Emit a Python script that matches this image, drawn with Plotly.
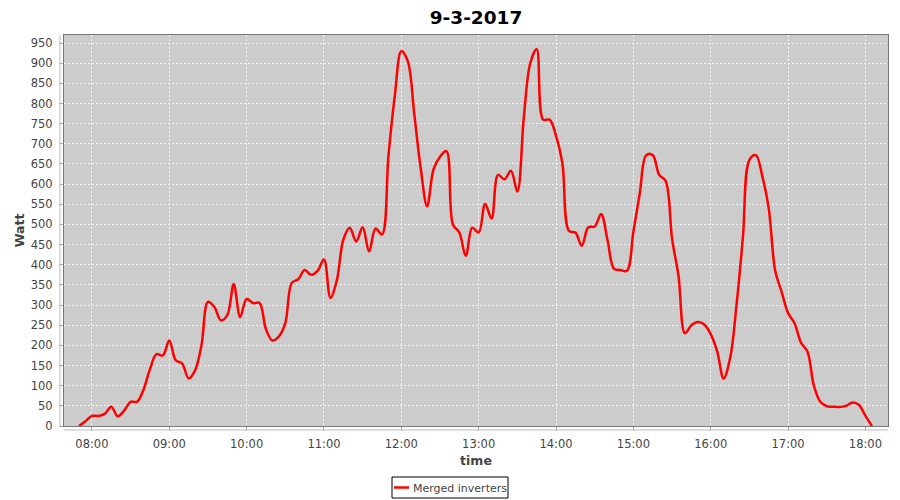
import pandas as pd
import plotly.graph_objects as go

# Мощность (Вт) каждые 5 минут, 07:50 - 18:05
start_time = "2017-03-09 07:50"
end_time = "2017-03-09 18:05"
watt = [
    0, 12,
    25, 25, 30, 48, 24, 38, 60, 60, 90, 141, 178, 175,
    212, 163, 155, 118, 138, 201, 308, 295, 262, 275, 352, 270,
    315, 305, 305, 240, 212, 222, 255, 355, 364, 387, 375, 385,
    413, 318, 362, 462, 492, 458, 493, 433, 490, 475, 670, 821,
    930, 905, 775, 640, 545, 637, 668, 682, 500, 480, 422, 492,
    480, 551, 515, 623, 612, 633, 582, 765, 900, 935, 760, 760,
    720, 650, 484, 480, 447, 493, 495, 526, 460, 390, 387, 385,
    482, 578, 672, 672, 623, 608, 465, 372, 230, 250, 258, 252,
    228, 185, 118, 168, 300, 470, 660, 672, 620, 540, 385, 333,
    280, 255, 207, 185, 100, 60, 49, 48, 47, 50, 58, 52,
    25, 0,
]
times = pd.date_range(start=start_time, end=end_time, freq="5min")

title_text = "9-3-2017"
series_name = "Merged inverters"

# страница html имеет отступ 8px, поэтому фигура чуть меньше окна
W, H = 892, 492
L, R, T, B = 56, 12, 27, 74
PW, PH = W - L - R, H - T - B


def px(fx):
    return (fx - L) / PW


def py(fy):
    return (H - B - fy) / PH


fig = go.Figure()
fig.add_trace(go.Scatter(x=times, y=watt, mode="lines", name=series_name, showlegend=False,
                         line=dict(color="#ff0000", width=2.5, shape="spline", smoothing=1)))

fig.update_layout(
    width=W, height=H,
    margin=dict(l=L, r=R, t=T, b=B),
    paper_bgcolor="white", plot_bgcolor="#cccccc",
    font=dict(family="DejaVu Sans", size=11.5, color="#444444"),
    title=dict(text="<b>" + title_text + "</b>", x=0.5, xanchor="center",
               xref="paper", yref="container", y=1 - 9.5 / H, yanchor="middle",
               font=dict(family="DejaVu Sans", size=18.5, color="black"), automargin=False),
    showlegend=False,
)

fig.update_xaxes(
    range=["2017-03-09 07:38:20", "2017-03-09 18:17:30"],
    tickformat="%H:%M", dtick=3600000, tick0="2017-03-09 08:00",
    showgrid=True, gridcolor="#f2f2f2", griddash="2px,2px", gridwidth=1,
    showline=True, linecolor="#777777", mirror=True,
    ticks="outside", ticklen=4, tickcolor="#aaaaaa", ticklabelstandoff=3,
    zeroline=False, automargin=False,
    title=dict(text="<b>time</b>", font=dict(size=12.5, color="#444444"), standoff=6),
)
fig.update_yaxes(
    range=[0, 970], dtick=50, tick0=0,
    showgrid=True, gridcolor="#f2f2f2", griddash="2px,2px", gridwidth=1,
    showline=True, linecolor="#777777", mirror=True,
    ticks="outside", ticklen=4, tickcolor="#aaaaaa", ticklabelstandoff=4,
    zeroline=False, automargin=False,
    title=dict(text="<b>Watt</b>", font=dict(size=12.5, color="#444444"), standoff=3),
)

# Смещённые линии осей как в JFreeChart
fig.add_shape(type="line", xref="paper", yref="paper", x0=-4 / PW, x1=-4 / PW, y0=0, y1=1,
              line=dict(color="#bbbbbb", width=1))
fig.add_shape(type="line", xref="paper", yref="paper", x0=0, x1=1, y0=-4 / PH, y1=-4 / PH,
              line=dict(color="#bbbbbb", width=1))

# Легенда снизу в рамке
fig.add_shape(type="rect", xref="paper", yref="paper",
              x0=px(384), x1=px(500), y0=py(469), y1=py(490),
              line=dict(color="black", width=1), fillcolor="white")
fig.add_shape(type="line", xref="paper", yref="paper",
              x0=px(386), x1=px(401), y0=py(479.5), y1=py(479.5),
              line=dict(color="#ff0000", width=2.5))
fig.add_annotation(text=series_name, xref="paper", yref="paper",
                   x=px(403), y=py(480), xanchor="left", yanchor="middle",
                   showarrow=False, font=dict(size=11, color="#444444"))

fig.write_html("out.html")
